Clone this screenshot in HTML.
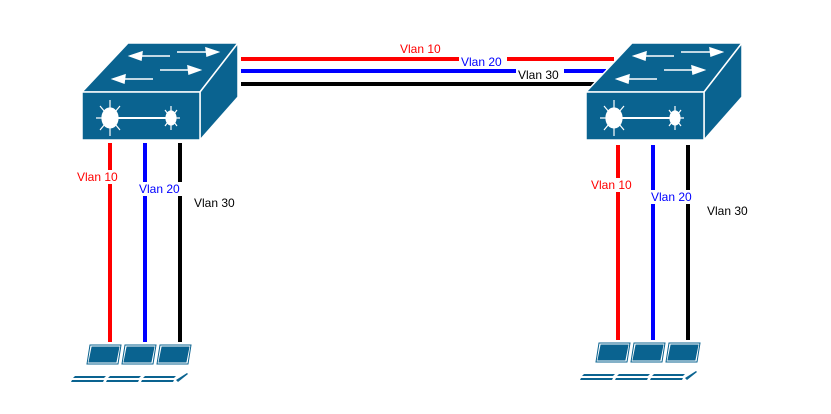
<!DOCTYPE html>
<html><head><meta charset="utf-8"><style>
body{margin:0;background:#fff;}
svg{display:block;}
text{font-family:"Liberation Sans",Arial,sans-serif;font-size:12px;}
</style></head><body>
<svg width="831" height="414" viewBox="0 0 831 414" xmlns="http://www.w3.org/2000/svg">
<defs>
<g id="sw">
  <polygon points="82,92 128,43 238,43 200,92" fill="#0a6390" stroke="#fff" stroke-width="1.5"/>
  <polygon points="200,92 238,43 238,97 200,140" fill="#0a6390" stroke="#fff" stroke-width="1.5"/>
  <rect x="82" y="92" width="118" height="48" fill="#0a6390" stroke="#fff" stroke-width="1.5"/>
  <g stroke="#fff" stroke-width="1.5" fill="#fff">
    <line x1="170" y1="56" x2="140" y2="56"/><polygon points="130,56 142,52 141,60"/>
    <line x1="177" y1="52" x2="208" y2="52"/><polygon points="218,52 206,48 207,56"/>
    <line x1="153" y1="79" x2="123" y2="79"/><polygon points="113,79 125,75 124,83"/>
    <line x1="160" y1="70" x2="190" y2="70"/><polygon points="200,70 188,66 189,74"/>
  </g>
  <g stroke="#fff" stroke-width="1.2" fill="#fff">
    <line x1="110" y1="118" x2="171" y2="118" stroke-width="2"/>
    <ellipse cx="110" cy="118" rx="8" ry="10"/>
    <ellipse cx="171" cy="118" rx="5" ry="7"/>
    <line x1="110" y1="100" x2="110" y2="136"/>
    <line x1="96" y1="118" x2="124" y2="118"/>
    <line x1="100" y1="106" x2="120" y2="130"/>
    <line x1="120" y1="106" x2="100" y2="130"/>
    <line x1="171" y1="106" x2="171" y2="130"/>
    <line x1="162" y1="118" x2="180" y2="118"/>
    <line x1="165" y1="110" x2="177" y2="126"/>
    <line x1="177" y1="110" x2="165" y2="126"/>
  </g>
</g>
<g id="pcs">
  <g fill="#0a6390" stroke="#0a6390" stroke-width="1">
    <polygon points="90,345 121,345 118,364 87,364" fill="#fff"/>
    <polygon points="92,347 119,347 116,362 89,362"/>
    <polygon points="125,345 156,345 153,364 122,364" fill="#fff"/>
    <polygon points="127,347 154,347 151,362 124,362"/>
    <polygon points="160,345 191,345 188,364 157,364" fill="#fff"/>
    <polygon points="162,347 189,347 186,362 159,362"/>
  </g>
  <g fill="#0a6390">
    <polygon points="75,376 106,376 104,378 73,378"/>
    <polygon points="72,380 104,380 103,382 71,382"/>
    <polygon points="110,376 141,376 139,378 108,378"/>
    <polygon points="107,380 139,380 138,382 106,382"/>
    <polygon points="145,376 176,376 174,378 143,378"/>
    <polygon points="142,380 174,380 173,382 141,382"/>
    <polygon points="176,380 187,373 188,374 178,382"/>
  </g>
</g>
</defs>
<line x1="241" y1="59" x2="614" y2="59" stroke="#f00" stroke-width="4"/>
<line x1="241" y1="71" x2="606" y2="71" stroke="#00f" stroke-width="4"/>
<line x1="241" y1="84" x2="596" y2="84" stroke="#000" stroke-width="4"/>
<use href="#sw"/>
<use href="#sw" transform="translate(504,0)"/>
<rect x="398" y="42" width="48" height="14" fill="#fff"/>
<text x="400" y="53" fill="#f00">Vlan 10</text>
<rect x="459" y="55" width="48" height="14" fill="#fff"/>
<text x="461" y="66" fill="#00f">Vlan 20</text>
<rect x="516" y="68" width="48" height="14" fill="#fff"/>
<text x="518" y="79" fill="#000">Vlan 30</text>

<line x1="110" y1="143" x2="110" y2="342" stroke="#f00" stroke-width="4"/>
<line x1="145" y1="143" x2="145" y2="342" stroke="#00f" stroke-width="4"/>
<line x1="180" y1="143" x2="180" y2="342" stroke="#000" stroke-width="4"/>
<line x1="618" y1="145" x2="618" y2="340" stroke="#f00" stroke-width="4"/>
<line x1="653" y1="145" x2="653" y2="340" stroke="#00f" stroke-width="4"/>
<line x1="688" y1="145" x2="688" y2="340" stroke="#000" stroke-width="4"/>

<rect x="76" y="170" width="48" height="14" fill="#fff"/>
<text x="77" y="181" fill="#f00">Vlan 10</text>
<rect x="138" y="182" width="48" height="14" fill="#fff"/>
<text x="139" y="193" fill="#00f">Vlan 20</text>
<text x="194" y="207" fill="#000">Vlan 30</text>
<rect x="590" y="178" width="48" height="14" fill="#fff"/>
<text x="591" y="189" fill="#f00">Vlan 10</text>
<rect x="650" y="190" width="48" height="14" fill="#fff"/>
<text x="651" y="201" fill="#00f">Vlan 20</text>
<text x="707" y="215" fill="#000">Vlan 30</text>

<use href="#pcs"/>
<use href="#pcs" transform="translate(509,-2)"/>
</svg>
</body></html>
